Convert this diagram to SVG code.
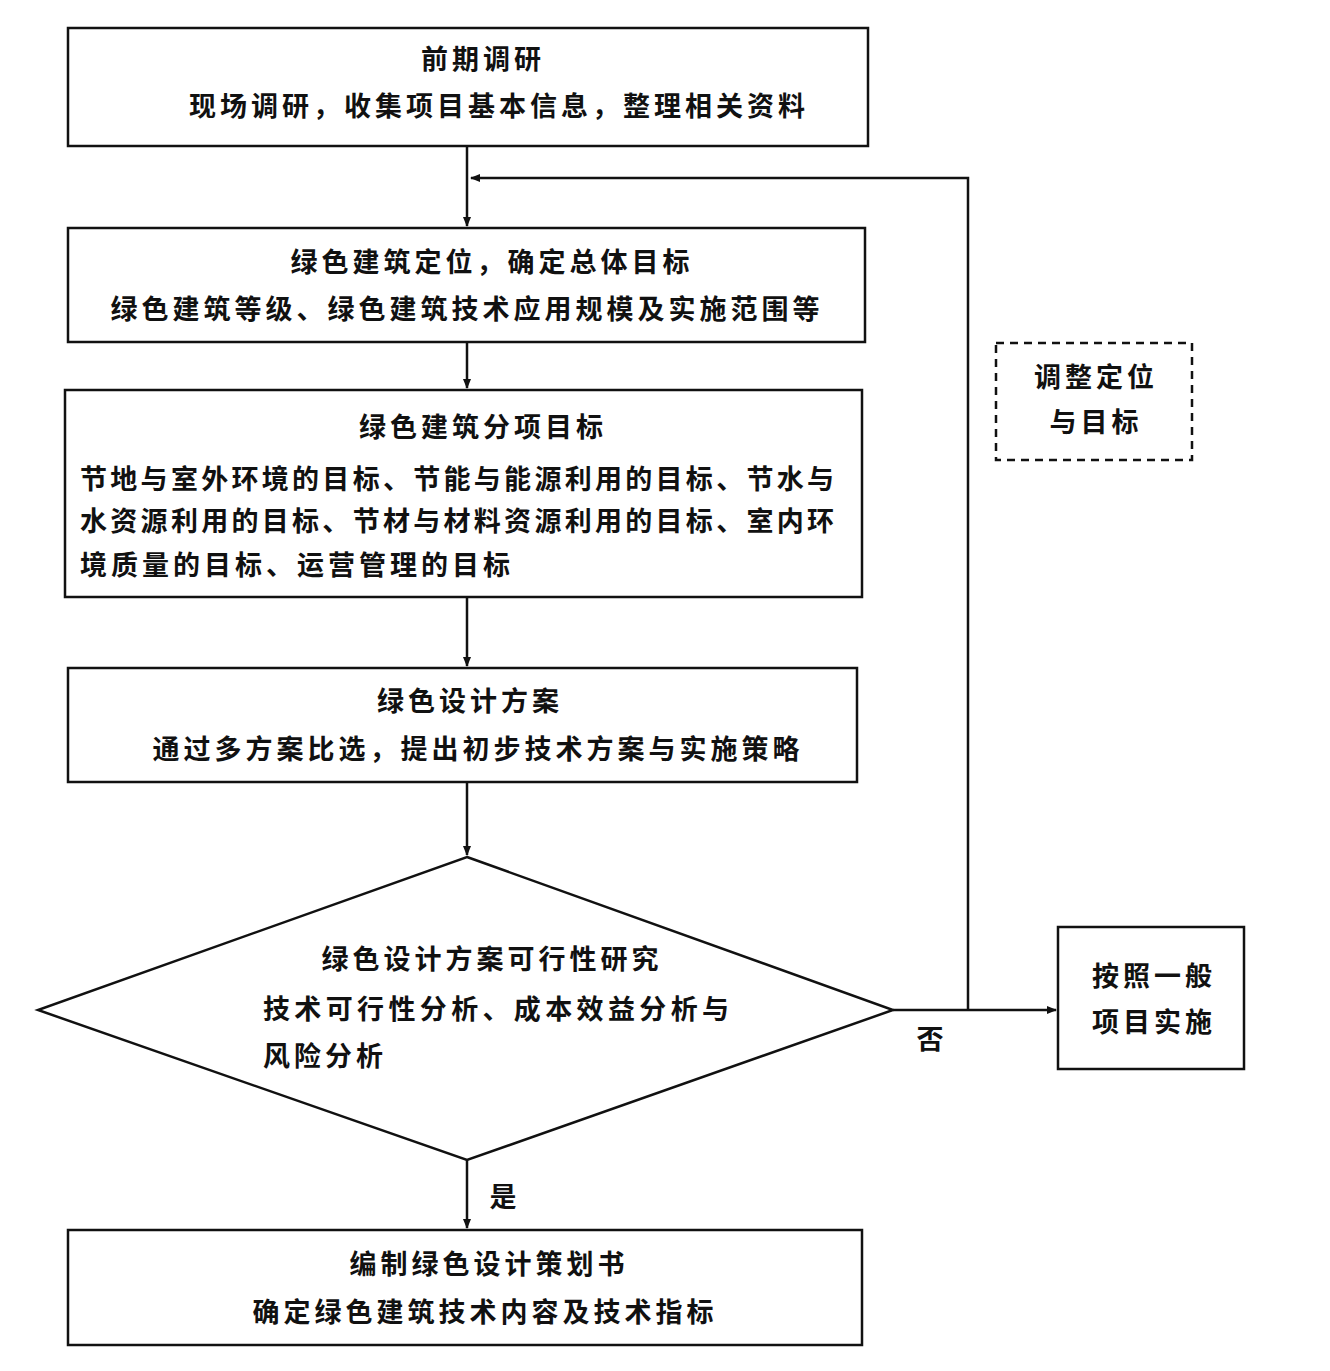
<svg xmlns="http://www.w3.org/2000/svg" width="1330" height="1371" viewBox="0 0 1330 1371">
<style>
text{font-family:"Noto Sans CJK SC","Liberation Sans",sans-serif;font-size:27px;font-weight:bold;fill:#111;letter-spacing:4px}
.c{text-anchor:middle}
.b{fill:#fff;stroke:#111;stroke-width:2.5}
.l{fill:none;stroke:#111;stroke-width:2.5}
</style>
<defs><marker id="a" markerWidth="10" markerHeight="10" refX="9" refY="5" orient="auto" markerUnits="userSpaceOnUse"><path d="M0,1 L10,5 L0,9 Z" fill="#111"/></marker></defs>
<rect width="1330" height="1371" fill="#fff"/>
<g id="connectors">
<path class="l" d="M467,146 V226" marker-end="url(#a)"/>
<path class="l" d="M467,342 V388" marker-end="url(#a)"/>
<path class="l" d="M467,597 V666" marker-end="url(#a)"/>
<path class="l" d="M467,782 V855" marker-end="url(#a)"/>
<path class="l" d="M467,1160 V1228" marker-end="url(#a)"/>
<path class="l" d="M893,1010 H1056" marker-end="url(#a)"/>
<path class="l" d="M968,1010 V178 H471" marker-end="url(#a)"/>
<text x="932" y="1049" class="c">否</text>
<text x="505" y="1207" class="c">是</text>
</g>
<g id="n1"><rect class="b" x="68" y="28" width="800" height="118"/>
<text x="483" y="69" class="c">前期调研</text><text x="499" y="116" class="c">现场调研，收集项目基本信息，整理相关资料</text></g>
<g id="n2"><rect class="b" x="68" y="228" width="797" height="114"/>
<text x="492" y="272" class="c">绿色建筑定位，确定总体目标</text><text x="467" y="319" class="c">绿色建筑等级、绿色建筑技术应用规模及实施范围等</text></g>
<g id="n3"><rect class="b" x="65" y="390" width="797" height="207"/>
<text x="483" y="437" class="c">绿色建筑分项目标</text>
<text x="80" y="489" textLength="758" lengthAdjust="spacing">节地与室外环境的目标、节能与能源利用的目标、节水与</text>
<text x="80" y="531" textLength="758" lengthAdjust="spacing">水资源利用的目标、节材与材料资源利用的目标、室内环</text>
<text x="80" y="575">境质量的目标、运营管理的目标</text></g>
<g id="n4"><rect class="b" x="68" y="668" width="789" height="114"/>
<text x="470" y="711" class="c">绿色设计方案</text><text x="478" y="759" class="c">通过多方案比选，提出初步技术方案与实施策略</text></g>
<g id="n5"><path class="b" d="M467,857 L893,1010 L467,1160 L38,1010 Z"/>
<text x="492" y="969" class="c">绿色设计方案可行性研究</text>
<text x="263" y="1019" textLength="470" lengthAdjust="spacing">技术可行性分析、成本效益分析与</text>
<text x="263" y="1066">风险分析</text></g>
<g id="n6"><rect class="b" x="68" y="1230" width="794" height="115"/>
<text x="489" y="1274" class="c">编制绿色设计策划书</text><text x="485" y="1322" class="c">确定绿色建筑技术内容及技术指标</text></g>
<g id="n7"><rect class="b" x="1058" y="927" width="186" height="142"/>
<text x="1154" y="986" class="c">按照一般</text><text x="1154" y="1032" class="c">项目实施</text></g>
<g id="n8"><rect class="b" x="996" y="343" width="196" height="117" stroke-dasharray="8,6"/>
<text x="1096" y="387" class="c">调整定位</text><text x="1096" y="432" class="c">与目标</text></g>
</svg>
